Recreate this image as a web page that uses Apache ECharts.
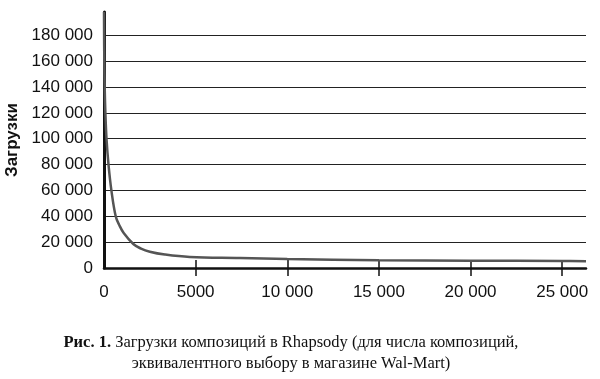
<!DOCTYPE html>
<html>
<head>
<meta charset="utf-8">
<script src="https://cdn.jsdelivr.net/npm/echarts@6/dist/echarts.min.js"></script>
<style>
html,body{margin:0;padding:0;background:#fff;}
#chart{width:600px;height:379px;}
</style>
</head>
<body>
<div id="chart"></div>
<script>
// Data (track rank -> downloads)
const trackRank = [0, 16, 38, 76, 137, 246, 404, 639, 830, 1075, 1600, 2020, 2500, 3320, 4680, 7420, 10000, 15000, 20000, 25000, 26300];
const downloads = [198000, 160000, 140000, 120000, 100000, 80000, 60000, 40000, 33300, 27100, 18600, 15000, 12600, 10400, 8500, 7700, 6960, 5950, 5650, 5400, 5300];
const xTickValues = [0, 5000, 10000, 15000, 20000, 25000];
const yTickValues = [0, 20000, 40000, 60000, 80000, 100000, 120000, 140000, 160000, 180000];
const yAxisTitle = 'Загрузки';
const captionBold = 'Рис. 1.';
const captionLine1 = ' Загрузки композиций в Rhapsody (для числа композиций,';
const captionLine2 = 'эквивалентного выбору в магазине Wal-Mart)';

const fmt = v => v >= 10000 ? String(v).replace(/\B(?=(\d{3})+(?!\d))/g, ' ') : String(v);

const chart = echarts.init(document.getElementById('chart'), null, {renderer: 'canvas'});
chart.setOption({
  animation: false,
  backgroundColor: '#fff',
  title: {
    text: '{b|' + captionBold + '}{n|' + captionLine1 + '}\n{n|' + captionLine2 + '}',
    left: 286,
    top: 327,
    textAlign: 'center',
    textStyle: {
      fontWeight: 'normal',
      rich: {
        b: {fontFamily: 'Liberation Serif', fontWeight: 'bold', fontSize: 16.5, color: '#111', lineHeight: 21},
        n: {fontFamily: 'Liberation Serif', fontWeight: 'normal', fontSize: 16.5, color: '#111', lineHeight: 21}
      }
    }
  },
  grid: {left: 104, right: 14, top: 12, bottom: 111, outerBoundsMode: 'none', containLabel: false},
  xAxis: [{
    type: 'value',
    min: 0,
    max: 26300,
    axisLine: {show: true, lineStyle: {color: '#111', width: 2.5}},
    axisTick: {show: true, length: 8, customValues: xTickValues.slice(1), lineStyle: {color: '#111', width: 1.5}},
    axisLabel: {customValues: xTickValues, formatter: fmt, margin: 16, fontFamily: 'Liberation Sans', fontSize: 17, color: '#111'},
    splitLine: {show: false}
  }, {
    type: 'value',
    position: 'bottom',
    min: 0,
    max: 26300,
    axisLine: {show: false},
    axisTick: {show: true, inside: true, length: 8, customValues: xTickValues.slice(1), lineStyle: {color: '#111', width: 1.5}},
    axisLabel: {show: false},
    splitLine: {show: false}
  }],
  yAxis: {
    type: 'value',
    min: 0,
    max: 198000,
    interval: 20000,
    name: yAxisTitle,
    nameLocation: 'middle',
    nameGap: 79,
    nameTextStyle: {fontFamily: 'Liberation Sans', fontWeight: 'bold', fontSize: 17, color: '#111'},
    axisLine: {show: true, lineStyle: {color: '#111', width: 3}},
    axisTick: {show: false},
    axisLabel: {customValues: yTickValues, formatter: fmt, margin: 11, fontFamily: 'Liberation Sans', fontSize: 17, color: '#111'},
    splitLine: {show: true, showMaxLine: false, showMinLine: false, lineStyle: {color: '#222', width: 1.2}}
  },
  series: [{
    type: 'line',
    xAxisIndex: 0,
    data: trackRank.map((x, i) => [x, downloads[i]]),
    smooth: 0.4,
    showSymbol: false,
    lineStyle: {color: '#555', width: 2.5}
  }]
});
</script>
</body>
</html>
